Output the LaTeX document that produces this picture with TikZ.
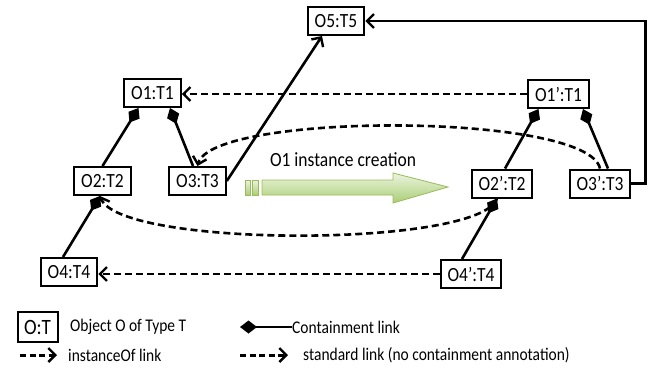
\documentclass[tikz,border=0pt]{standalone}
\usepackage{fontspec}
\setmainfont{Carlito}
\usetikzlibrary{arrows.meta,calc}
\newcommand{\tallt}[1]{\scalebox{1}[1.15]{#1}}
\begin{document}
\begin{tikzpicture}[x=1pt,y=-1pt,
  obj/.style={draw,line width=2pt,minimum height=28pt,inner xsep=7pt,inner ysep=0pt,font=\fontsize{17.5}{18}\selectfont},
  contain/.style={line width=2.6pt,{Diamond[length=17pt,width=13pt]}-},
  inst/.style={line width=2.6pt,dash pattern=on 7pt off 4pt,-{Straight Barb[length=7pt,width=14pt,line width=2.4pt]}},
  std/.style={line width=2.6pt,-{Straight Barb[length=7pt,width=14pt,line width=2.4pt]}},
  lbl/.style={font=\fontsize{15.5}{16}\selectfont,anchor=west,inner sep=0pt}]
\useasboundingbox (0,0) rectangle (652,373);

% objects
\node[obj] (o5) at (336,21) {\tallt{O5:T5}};
\node[obj] (o1) at (152.5,93) {\tallt{O1:T1}};
\node[obj] (o2) at (102.5,181) {\tallt{O2:T2}};
\node[obj] (o3) at (197.5,181) {\tallt{O3:T3}};
\node[obj] (o4) at (69,272) {\tallt{O4:T4}};
\node[obj] (p1) at (558.5,94) {\tallt{O1’:T1}};
\node[obj] (p2) at (502,183.5) {\tallt{O2’:T2}};
\node[obj] (p3) at (600,183.5) {\tallt{O3’:T3}};
\node[obj] (p4) at (471,274) {\tallt{O4’:T4}};

% containment
\draw[contain] ([xshift=-14pt]o1.south) -- (o2.north);
\draw[contain] ([xshift=17.5pt]o1.south) -- ([xshift=-4.5pt]o3.north);
\draw[contain] ([xshift=-2.5pt]o2.south) -- ([xshift=-6pt]o4.north);
\draw[contain] ([xshift=-20pt]p1.south) -- ([xshift=3pt]p2.north);
\draw[contain] ([xshift=24.5pt]p1.south) -- ([xshift=8pt]p3.north);
\draw[contain] ([xshift=-5pt]p2.south) -- ([xshift=-9pt]p4.north);

% instanceOf links
\draw[inst] (p1.west) -- (p1.west -| o1.east);
\draw[inst] (p4.west) -- (p4.west -| o4.east);
\draw[inst] (p3.north) .. controls (588,112) and (212,112) .. (o3.north);
\draw[inst] ([xshift=-5pt]p2.south) .. controls (480,248) and (120,248) .. ([xshift=-2.5pt]o2.south);

% standard links
\draw[std] (o3.east) -- ([xshift=-14pt]o5.south);
\draw[std] (p3.east) -- ++(14,0) |- (o5.east);

% green arrow
\tikzset{garrow/.style={line width=0.8pt,top color={rgb,255:red,236;green,244;blue,222},bottom color={rgb,255:red,170;green,206;blue,118},draw={rgb,255:red,155;green,187;blue,89}}}
\draw[garrow] (262,180) -- (393,180) -- (393,173) -- (448,187) -- (393,203) -- (393,195) -- (262,195) -- cycle;
\draw[garrow] (245,180) rectangle (250,195);
\draw[garrow] (252,180) rectangle (258,195);
\node[font=\fontsize{17.5}{18}\selectfont,inner sep=0pt] (creation) at (343,160) {\tallt{O1 instance creation}};

% legend
\node[draw,line width=2pt,minimum width=40pt,minimum height=30pt,inner sep=0pt,font=\fontsize{19}{20}\selectfont] (lgbox) at (37.5,327) {\tallt{O:T}};
\node[lbl] (lgobj) at (70,327) {\tallt{Object O of Type T}};
\coordinate (lgc1) at (240,327);
\node[lbl] (lgcont) at (292,327) {\tallt{Containment link}};
\draw[contain] (lgc1) -- (lgcont.west);
\coordinate (lgi1) at (20,355);
\coordinate (lgi2) at (57,355);
\draw[inst,line width=3pt,dash pattern=on 6pt off 3.5pt] (lgi1) -- (lgi2);
\node[lbl] (lginst) at (68,355) {\tallt{instanceOf link}};
\coordinate (lgs1) at (240,355);
\coordinate (lgs2) at (288,355);
\draw[inst,line width=3pt,dash pattern=on 6pt off 3.5pt] (lgs1) -- (lgs2);
\node[lbl] (lgstd) at (303,355) {\tallt{standard link (no containment annotation)}};
\end{tikzpicture}
\end{document}
